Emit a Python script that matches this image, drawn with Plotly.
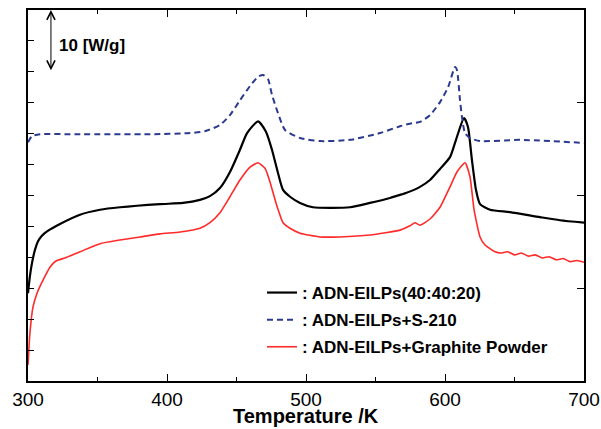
import plotly.graph_objects as go

# Temperature (K) and heat flow (W/g, offset)
t_black = [300, 301.4, 302.9, 305.0, 307.2, 310.0, 313.7, 323.0, 337.4, 351.8, 366.2, 395.0,
           411.5, 423.7, 430.9, 438.1, 445.3, 452.5, 457.6, 465.5, 471.2, 475.5, 479.9, 483.5,
           488.5, 495.7, 505.0, 517.3, 531.7, 546.0, 560.4, 569.1, 571.9, 582.0, 589.2, 596.4,
           603.6, 608.6, 613.7, 616.5, 619.4, 622.3, 625.2, 632.4, 646.8, 668.3, 682.7, 700]
y_black = [14.2, 17.0, 19.1, 21.2, 22.6, 23.5, 24.2, 25.4, 26.9, 27.7, 28.1, 28.6,
           28.8, 29.3, 29.9, 31.2, 33.8, 37.4, 40.1, 42.0, 40.3, 37.4, 33.6, 30.9,
           29.8, 28.8, 28.1, 28.0, 28.1, 28.8, 29.6, 30.2, 30.4, 31.4, 32.5, 34.3,
           36.2, 39.5, 42.5, 41.1, 35.7, 30.9, 28.6, 27.7, 27.3, 26.5, 26.0, 25.6]

t_blue = [300, 302.9, 308.6, 337.4, 387.8, 416.5, 427.3, 438.1, 445.3, 452.5, 459.7,
          465.5, 469.1, 472.7, 475.5, 479.9, 484.9, 495.7, 510.1, 531.7, 553.3, 567.6,
          576.3, 582.0, 589.2, 596.4, 602.2, 607.2, 608.6, 610.8, 612.2, 614.4, 618.0,
          625.2, 654.0, 700]
y_blue = [38.6, 39.6, 39.9, 39.9, 39.9, 40.1, 40.4, 41.4, 43.0, 45.4, 47.7,
          49.2, 49.5, 48.8, 46.3, 43.3, 40.6, 39.3, 38.8, 39.0, 40.1, 41.2,
          41.7, 41.9, 43.0, 45.1, 47.5, 50.8, 50.3, 45.4, 42.7, 40.1, 39.3,
          38.8, 39.0, 38.5]

t_red = [300, 301.4, 303.6, 306.5, 310.8, 315.8, 320.1, 326.6, 337.4, 351.8, 366.2,
         380.6, 395.0, 409.4, 423.7, 430.9, 438.1, 445.3, 452.5, 459.7, 465.5, 470.5,
         474.1, 478.4, 483.5, 488.5, 495.7, 510.1, 524.5, 546.0, 567.6, 574.8, 578.4,
         582.0, 589.2, 596.4, 603.6, 608.6, 614.4, 618.0, 620.9, 625.2, 628.8, 636.0,
         640, 645, 650, 655, 660, 665, 670, 675, 680, 685, 690, 695, 700]
y_red = [2.6, 7.8, 12.0, 14.2, 16.3, 18.4, 19.4, 19.9, 20.9, 22.2, 22.8,
         23.3, 23.8, 24.1, 24.7, 25.6, 27.2, 29.8, 32.5, 34.6, 35.3, 34.4,
         32.2, 28.8, 25.6, 24.7, 23.9, 23.3, 23.3, 23.6, 24.4, 25.1, 25.6,
         25.2, 26.2, 28.1, 31.4, 33.8, 35.3, 33.0, 27.7, 23.3, 22.0, 20.9,
         20.7, 20.9, 20.4, 20.7, 20.2, 20.4, 19.9, 20.1, 19.6, 19.8, 19.3, 19.5, 19.2]

names = [": ADN-EILPs(40:40:20)", ": ADN-EILPs+S-210", ": ADN-EILPs+Graphite Powder"]
x_ticks = [300, 400, 500, 600, 700]
scale_bar = [50, 60]  # 10 W/g scale bar

FONT = "Liberation Sans, Arial, sans-serif"

fig = go.Figure()
fig.add_trace(go.Scatter(x=t_black, y=y_black, mode="lines", name=names[0], legendgroup="a",
                         line=dict(color="black", width=2.2, shape="spline", smoothing=0.6)))
fig.add_trace(go.Scatter(x=t_blue, y=y_blue, mode="lines", name=names[1], legendgroup="b",
                         line=dict(color="#2b3a8f", width=2, dash="6px,4px", shape="spline", smoothing=0.6)))
fig.add_trace(go.Scatter(x=t_red, y=y_red, mode="lines", name=names[2], legendgroup="c",
                         line=dict(color="#ff2a2a", width=1.6, shape="spline", smoothing=0.5)))
# invisible trace to drive right axis
fig.add_trace(go.Scatter(x=[300], y=[0], yaxis="y2", mode="markers", marker=dict(opacity=0),
                         showlegend=False, hoverinfo="skip"))

fig.add_annotation(x=316.5, y=scale_bar[1], ax=316.5, ay=scale_bar[0], xref="x", yref="y",
                   axref="x", ayref="y", text="", showarrow=True, arrowhead=5, startarrowhead=5,
                   arrowside="end+start", arrowsize=1.6, startarrowsize=1.6, arrowwidth=1,
                   arrowcolor="black", standoff=0, startstandoff=0)
fig.add_annotation(x=320.5, y=54.2, xref="x", yref="y", text="10 [W/g]", showarrow=False,
                   xanchor="left", yanchor="middle",
                   font=dict(family=FONT, size=17, color="black", weight="bold"))
# x-axis title
fig.add_annotation(x=0.5, y=-48 / 371, xref="paper", yref="paper", text="Temperature /K",
                   showarrow=False, xanchor="center", yanchor="bottom",
                   font=dict(family=FONT, size=20, color="black", weight="bold"))

fig.update_layout(
    width=601, height=429,
    margin=dict(l=28, r=17, t=10, b=48, autoexpand=False),
    paper_bgcolor="white", plot_bgcolor="white",
    showlegend=True,
    legend=dict(x=(262 - 28) / 556, y=(381 - 275) / 371, xanchor="left", yanchor="top",
                bgcolor="rgba(0,0,0,0)", traceorder="grouped", tracegroupgap=2,
                font=dict(family=FONT, size=17, color="black", weight="bold")),
    xaxis=dict(range=[300, 700], tickvals=x_ticks, ticktext=[str(v) for v in x_ticks],
               ticks="inside", ticklen=7, tickwidth=1.2, tickcolor="black", automargin=False,
               minor=dict(dtick=50, ticks="inside", ticklen=4, tickcolor="black", tickwidth=1.2),
               showline=True, linecolor="black", linewidth=1.5, mirror="ticks",
               showgrid=False, zeroline=False,
               tickfont=dict(family=FONT, size=19, color="black")),
    yaxis=dict(range=[0, 60], dtick=5, ticks="inside", ticklen=6, tickwidth=1.2, automargin=False,
               tickcolor="black", showticklabels=False, showline=True, linecolor="black",
               linewidth=1.5, showgrid=False, zeroline=False),
    yaxis2=dict(range=[0, 60], dtick=15, overlaying="y", side="right", ticks="inside",
                ticklen=7, tickwidth=1.2, tickcolor="black", showticklabels=False, automargin=False,
                showline=True, linecolor="black", linewidth=1.5, showgrid=False, zeroline=False),
)

fig.write_html("out.html")
